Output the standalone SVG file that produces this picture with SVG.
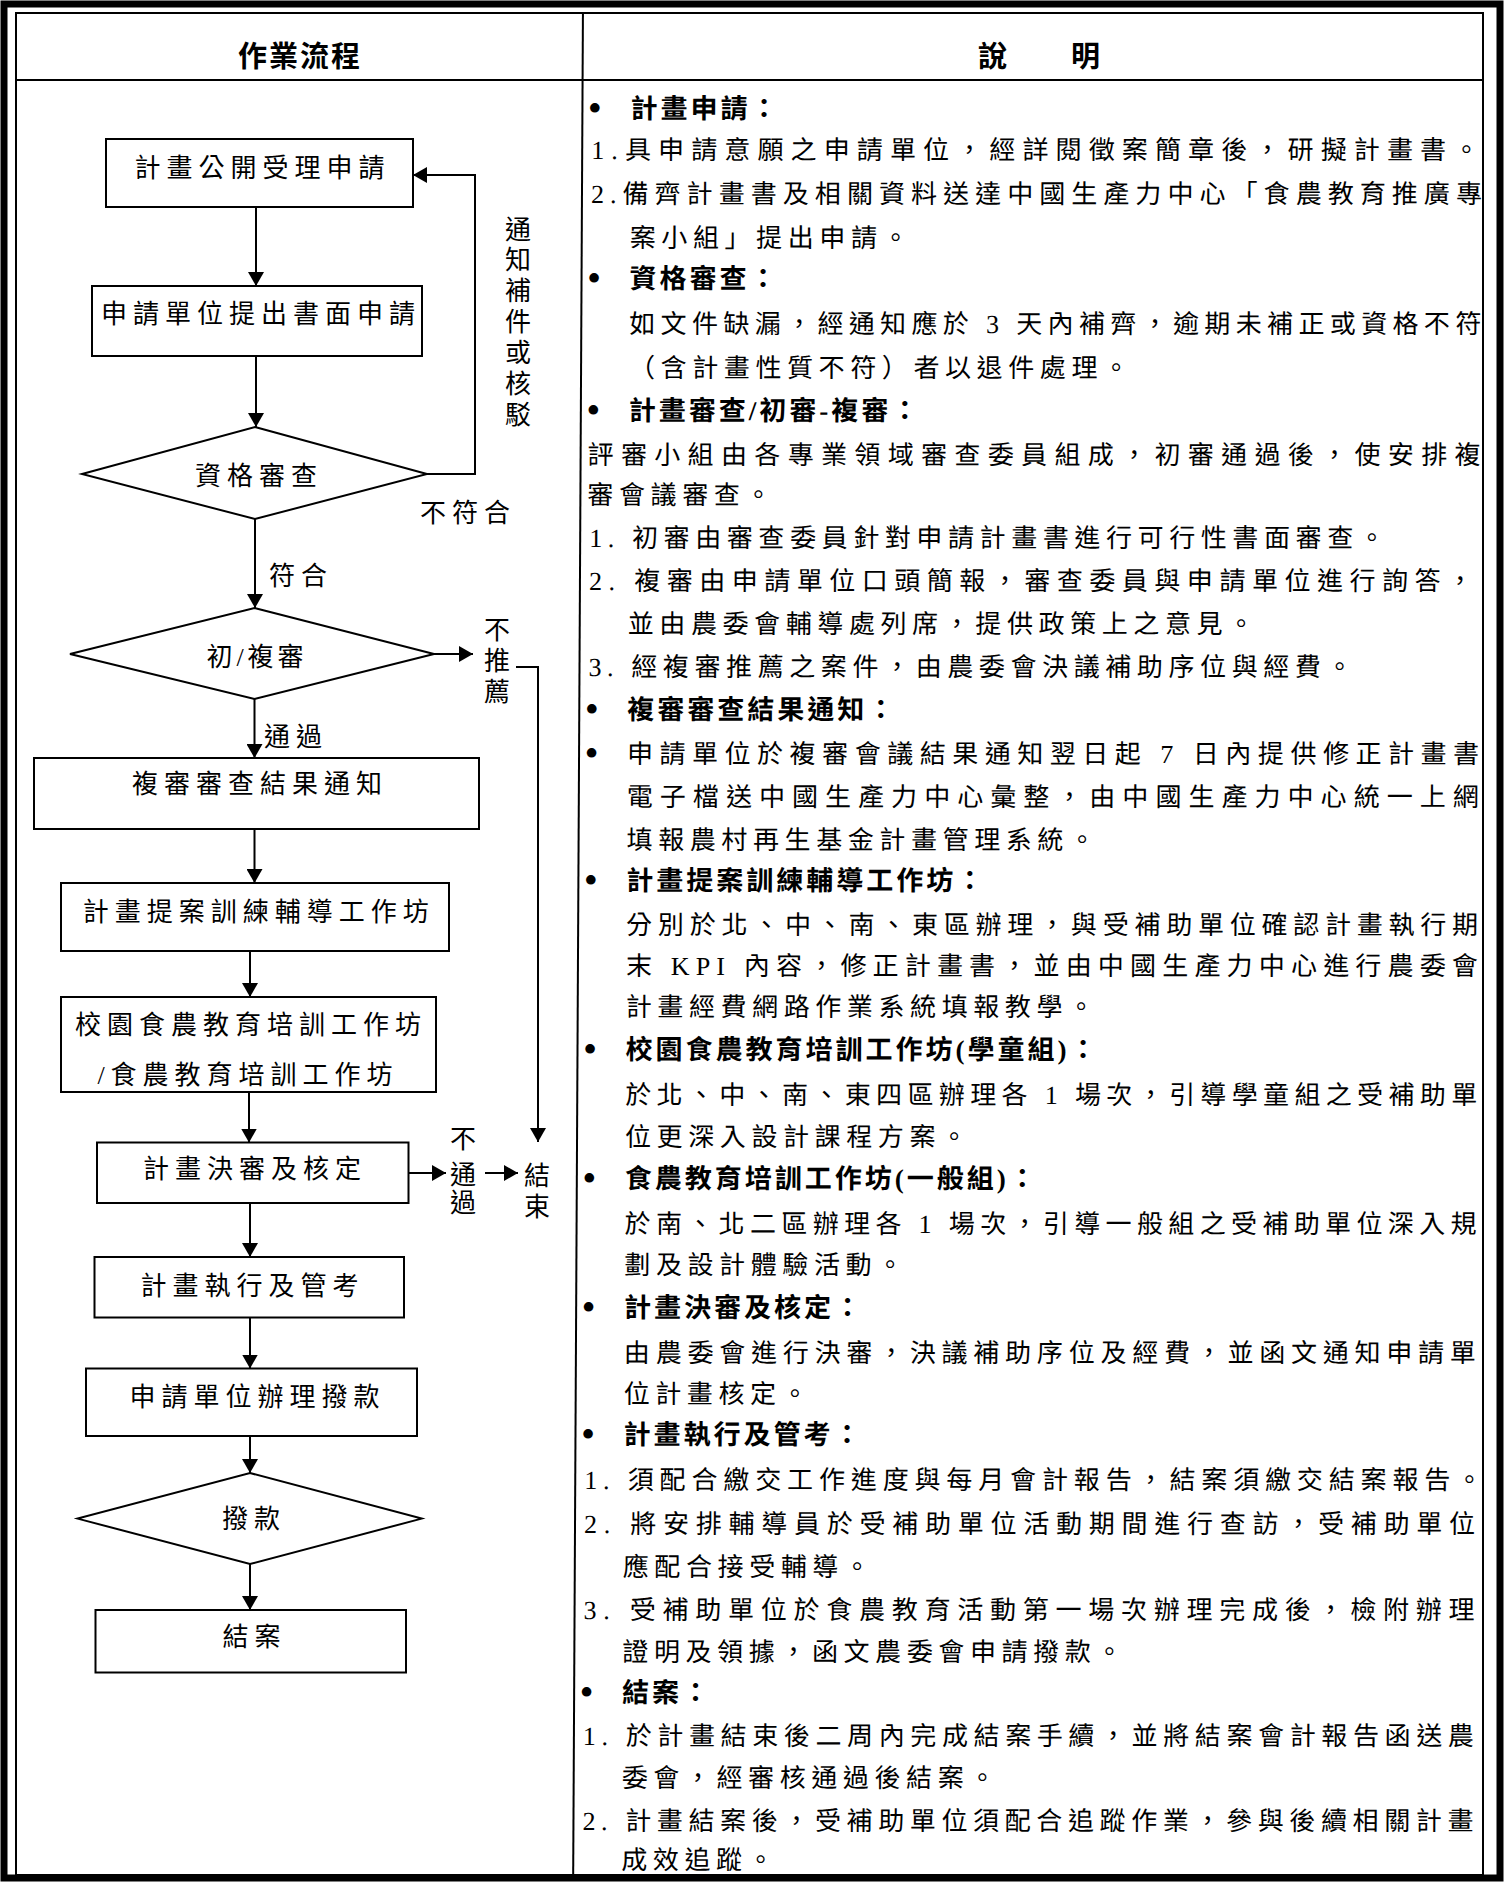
<svg xmlns="http://www.w3.org/2000/svg" width="1507" height="1882" viewBox="0 0 1507 1882">
<defs>
<style>
text{font-family:'Liberation Serif','Noto Sans CJK TC','Noto Sans CJK SC',serif;fill:#000}
.frame{fill:none;stroke:#000}
.box{fill:#fff;stroke:#000;stroke-width:2}
.ln{fill:none;stroke:#000;stroke-width:2}
.fc{font-size:26px;letter-spacing:6px;text-anchor:middle}
.vl{font-size:26px;text-anchor:middle}
.hd{font-size:29px;font-weight:bold;text-anchor:middle;letter-spacing:2px}
.h{font-size:27px;font-weight:bold;letter-spacing:3px}
.t{font-size:26px;letter-spacing:5.6px}
.j{font-size:26px}
.bu{font-size:40px;text-anchor:middle}
</style>
<marker id="ah" markerUnits="userSpaceOnUse" markerWidth="14" markerHeight="16" viewBox="0 0 14 16" refX="14" refY="8" orient="auto"><path d="M0,0 L14,8 L0,16 Z" fill="#000"/></marker>
</defs>
<rect x="0" y="0" width="1507" height="1882" fill="#fff"/>
<g id="frame">
<rect class="frame" x="4" y="4" width="1496" height="1874" stroke-width="7"/>
<rect class="frame" x="16" y="13" width="1467" height="1862" stroke-width="2"/>
<line class="ln" x1="16" y1="80" x2="1483" y2="80"/>
<text class="hd" x="300" y="67">作業流程</text>
<text class="hd" x="1040" y="67">說　　明</text>
</g>
<g id="connectors">
<line class="ln" x1="256" y1="207" x2="256" y2="286" marker-end="url(#ah)"/>
<line class="ln" x1="256" y1="356" x2="256" y2="427" marker-end="url(#ah)"/>
<polyline class="ln" points="427,474 475,474 475,175 413,175" marker-end="url(#ah)"/>
<line class="ln" x1="255" y1="519" x2="255" y2="608" marker-end="url(#ah)"/>
<line class="ln" x1="434" y1="654" x2="473" y2="654" marker-end="url(#ah)"/>
<polyline class="ln" points="516,667 538,667 538,1142" marker-end="url(#ah)"/>
<line class="ln" x1="254.5" y1="699" x2="254.5" y2="758" marker-end="url(#ah)"/>
<line class="ln" x1="254.5" y1="829" x2="254.5" y2="883" marker-end="url(#ah)"/>
<line class="ln" x1="250" y1="951" x2="250" y2="997" marker-end="url(#ah)"/>
<line class="ln" x1="249" y1="1092" x2="249" y2="1142.5" marker-end="url(#ah)"/>
<line class="ln" x1="408.5" y1="1173" x2="446" y2="1173" marker-end="url(#ah)"/>
<line class="ln" x1="485" y1="1173" x2="518" y2="1173" marker-end="url(#ah)"/>
<line class="ln" x1="250" y1="1203" x2="250" y2="1257" marker-end="url(#ah)"/>
<line class="ln" x1="250" y1="1317.5" x2="250" y2="1368.5" marker-end="url(#ah)"/>
<line class="ln" x1="250" y1="1436" x2="250" y2="1473" marker-end="url(#ah)"/>
<line class="ln" x1="250" y1="1564" x2="250" y2="1610" marker-end="url(#ah)"/>
<text class="vl"><tspan x="518" y="238.5">通</tspan><tspan x="518" y="269.4">知</tspan><tspan x="518" y="300.3">補</tspan><tspan x="518" y="331.2">件</tspan><tspan x="518" y="362.1">或</tspan><tspan x="518" y="393">核</tspan><tspan x="518" y="423.9">駁</tspan></text>
<text class="fc" x="468" y="521.5">不符合</text>
<text class="fc" x="301" y="584.5">符合</text>
<text class="vl"><tspan x="497" y="639">不</tspan><tspan x="497" y="670">推</tspan><tspan x="497" y="701">薦</tspan></text>
<text class="fc" x="296" y="745.5">通過</text>
<text class="vl"><tspan x="463" y="1148">不</tspan><tspan x="463" y="1183.5">通</tspan><tspan x="463" y="1212">過</tspan></text>
</g>
<g id="n1"><rect class="box" x="106" y="139" width="307" height="68"/><text class="fc" x="262.5" y="176.5">計畫公開受理申請</text></g>
<g id="n2"><rect class="box" x="92" y="286" width="330" height="70"/><text class="fc" x="261" y="322.5">申請單位提出書面申請</text></g>
<g id="n3"><polygon class="box" points="255,427 427,474 255,519 82,474"/><text class="fc" x="259" y="485">資格審查</text></g>
<g id="n4"><polygon class="box" points="254.5,608 434,654 254.5,699 70,654"/><text class="fc" x="257" y="665.5" style="letter-spacing:4px">初/複審</text></g>
<g id="n5"><rect class="box" x="34" y="758" width="445" height="71"/><text class="fc" x="260" y="792.5">複審審查結果通知</text></g>
<g id="n6"><rect class="box" x="61" y="883" width="388" height="68"/><text class="fc" x="258.7" y="920.5">計畫提案訓練輔導工作坊</text></g>
<g id="n7"><rect class="box" x="61" y="997" width="375" height="95"/><text class="fc" x="251" y="1033.5">校園食農教育培訓工作坊</text><text class="fc" x="248" y="1083.5">/食農教育培訓工作坊</text></g>
<g id="n8"><rect class="box" x="97" y="1142.5" width="311.5" height="60.5"/><text class="fc" x="255" y="1177.5">計畫決審及核定</text></g>
<g id="n9"><rect class="box" x="94.5" y="1257" width="309.5" height="60.5"/><text class="fc" x="252.5" y="1294.5">計畫執行及管考</text></g>
<g id="n10"><rect class="box" x="86" y="1368.5" width="331" height="67.5"/><text class="fc" x="257.5" y="1406">申請單位辦理撥款</text></g>
<g id="n11"><polygon class="box" points="250,1473 421.7,1518.6 250,1564 77.6,1518.6"/><text class="fc" x="254" y="1527.5">撥款</text></g>
<g id="n12"><rect class="box" x="95.5" y="1610" width="310.5" height="62.5"/><text class="fc" x="254.5" y="1645.5">結案</text></g>
<g id="end"><text class="vl"><tspan x="537" y="1184.5">結</tspan><tspan x="537" y="1216">束</tspan></text></g>
<g id="desc" transform="skewX(-0.3)">
<line class="ln" x1="583" y1="13" x2="583" y2="1875"/>
<text class="bu" x="595.5" y="121">•</text><text class="h" x="631" y="118">計畫申請：</text>
<text class="j" x="592" y="159" textLength="888" lengthAdjust="spacing">1.具申請意願之申請單位，經詳閱徵案簡章後，研擬計畫書。</text>
<text class="j" x="592" y="203" textLength="891" lengthAdjust="spacing">2.備齊計畫書及相關資料送達中國生產力中心「食農教育推廣專</text>
<text class="t" x="631" y="247">案小組」提出申請。</text>
<text class="bu" x="595.5" y="291">•</text><text class="h" x="631" y="288">資格審查：</text>
<text class="j" x="631" y="333" textLength="852" lengthAdjust="spacing">如文件缺漏，經通知應於 3 天內補齊，逾期未補正或資格不符</text>
<text class="t" x="631" y="377">（含計畫性質不符）者以退件處理。</text>
<text class="bu" x="595.5" y="423.5">•</text><text class="h" x="631" y="420.5">計畫審查/初審-複審：</text>
<text class="j" x="590" y="464.5" textLength="893" lengthAdjust="spacing">評審小組由各專業領域審查委員組成，初審通過後，使安排複</text>
<text class="t" x="590" y="504">審會議審查。</text>
<text class="t" x="592" y="547">1. 初審由審查委員針對申請計畫書進行可行性書面審查。</text>
<text class="j" x="592" y="590.5" textLength="884" lengthAdjust="spacing">2. 複審由申請單位口頭簡報，審查委員與申請單位進行詢答，</text>
<text class="t" x="631" y="633">並由農委會輔導處列席，提供政策上之意見。</text>
<text class="t" x="592" y="676">3. 經複審推薦之案件，由農委會決議補助序位與經費。</text>
<text class="bu" x="595.5" y="722">•</text><text class="h" x="631" y="719">複審審查結果通知：</text>
<text class="bu" x="595.5" y="766">•</text><text class="j" x="631" y="763" textLength="852" lengthAdjust="spacing">申請單位於複審會議結果通知翌日起 7 日內提供修正計畫書</text>
<text class="j" x="631" y="806" textLength="852" lengthAdjust="spacing">電子檔送中國生產力中心彙整，由中國生產力中心統一上網</text>
<text class="t" x="631" y="849">填報農村再生基金計畫管理系統。</text>
<text class="bu" x="595.5" y="893">•</text><text class="h" x="631" y="890">計畫提案訓練輔導工作坊：</text>
<text class="j" x="631" y="934" textLength="852" lengthAdjust="spacing">分別於北、中、南、東區辦理，與受補助單位確認計畫執行期</text>
<text class="j" x="631" y="975" textLength="852" lengthAdjust="spacing">末 KPI 內容，修正計畫書，並由中國生產力中心進行農委會</text>
<text class="t" x="631" y="1016">計畫經費網路作業系統填報教學。</text>
<text class="bu" x="595.5" y="1062.5">•</text><text class="h" x="631" y="1059.5">校園食農教育培訓工作坊(學童組)：</text>
<text class="j" x="631" y="1104" textLength="852" lengthAdjust="spacing">於北、中、南、東四區辦理各 1 場次，引導學童組之受補助單</text>
<text class="t" x="631" y="1146">位更深入設計課程方案。</text>
<text class="bu" x="595.5" y="1191.5">•</text><text class="h" x="631" y="1188.5">食農教育培訓工作坊(一般組)：</text>
<text class="j" x="631" y="1233" textLength="852" lengthAdjust="spacing">於南、北二區辦理各 1 場次，引導一般組之受補助單位深入規</text>
<text class="t" x="631" y="1274.5">劃及設計體驗活動。</text>
<text class="bu" x="595.5" y="1320">•</text><text class="h" x="631" y="1317">計畫決審及核定：</text>
<text class="j" x="631" y="1362" textLength="852" lengthAdjust="spacing">由農委會進行決審，決議補助序位及經費，並函文通知申請單</text>
<text class="t" x="631" y="1403.5">位計畫核定。</text>
<text class="bu" x="595.5" y="1447.5">•</text><text class="h" x="631" y="1444.5">計畫執行及管考：</text>
<text class="j" x="592" y="1489" textLength="898" lengthAdjust="spacing">1. 須配合繳交工作進度與每月會計報告，結案須繳交結案報告。</text>
<text class="j" x="592" y="1533" textLength="891" lengthAdjust="spacing">2. 將安排輔導員於受補助單位活動期間進行查訪，受補助單位</text>
<text class="t" x="631" y="1576">應配合接受輔導。</text>
<text class="j" x="592" y="1619" textLength="891" lengthAdjust="spacing">3. 受補助單位於食農教育活動第一場次辦理完成後，檢附辦理</text>
<text class="t" x="631" y="1661">證明及領據，函文農委會申請撥款。</text>
<text class="bu" x="595.5" y="1705">•</text><text class="h" x="631" y="1702">結案：</text>
<text class="j" x="592" y="1745" textLength="891" lengthAdjust="spacing">1. 於計畫結束後二周內完成結案手續，並將結案會計報告函送農</text>
<text class="t" x="631" y="1787">委會，經審核通過後結案。</text>
<text class="j" x="592" y="1830" textLength="891" lengthAdjust="spacing">2. 計畫結案後，受補助單位須配合追蹤作業，參與後續相關計畫</text>
<text class="t" x="631" y="1869">成效追蹤。</text>
</g>
</svg>
